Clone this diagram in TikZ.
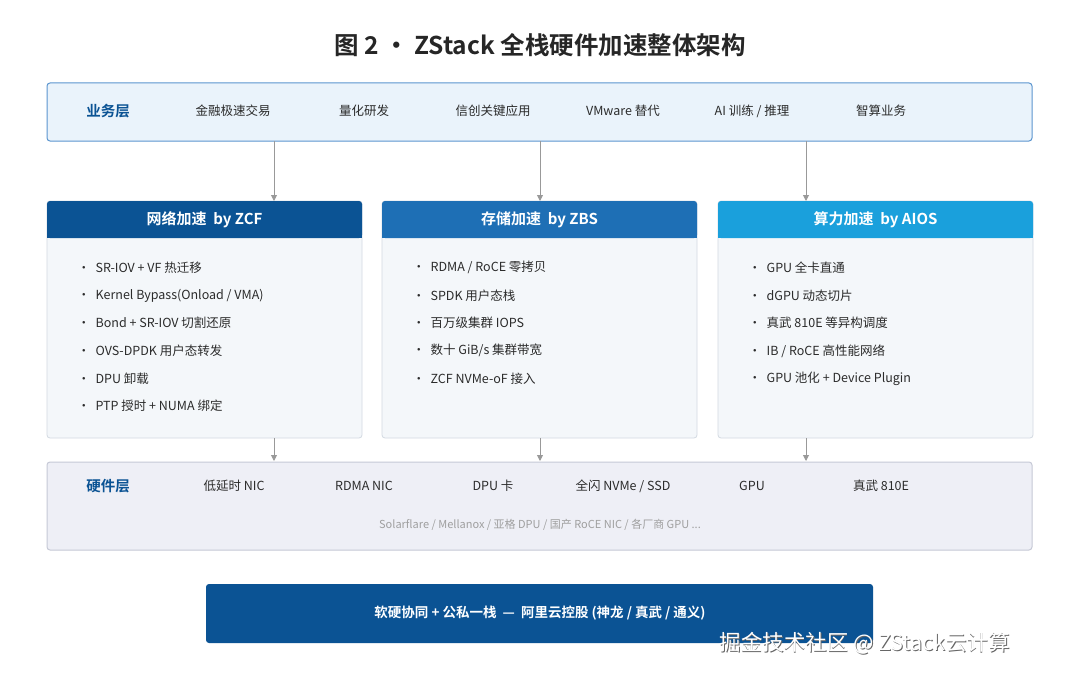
\documentclass[tikz,border=0pt]{standalone}
\usepackage{fontspec}
\setmainfont{Noto Sans CJK SC}
\newfontfamily\cjkb{Noto Sans CJK SC Bold}
\usetikzlibrary{arrows.meta}
\definecolor{dk}{HTML}{0B5394}
\definecolor{md}{HTML}{1E6FB5}
\definecolor{lt}{HTML}{1AA0DC}
\definecolor{bizfill}{HTML}{EAF3FB}
\definecolor{bizline}{HTML}{5B95CF}
\definecolor{bodyfill}{HTML}{F4F7FA}
\definecolor{bodyline}{HTML}{D3DAE2}
\definecolor{hwfill}{HTML}{EEEFF6}
\definecolor{hwline}{HTML}{C6C9D6}
\definecolor{txt}{HTML}{2B2B2B}
\tikzset{
 item/.style={font=\fontsize{12.5}{14}\selectfont, text=txt},
 layerlbl/.style={font=\cjkb\fontsize{14.5}{16}\selectfont, text=dk},
 arr/.style={-{Triangle[length=6pt,width=6pt]}, draw=gray!80, line width=0.9pt},
 hdr/.style={font=\cjkb\fontsize{15}{17}\selectfont, text=white},
 bul/.style={item, anchor=west},
}
\begin{document}
\begin{tikzpicture}[x=1pt,y=-1pt]
\useasboundingbox (0,0) rectangle (1080,677);
\fill[white] (0,0) rectangle (1080,677);
\node[font=\cjkb\fontsize{24.5}{27}\selectfont, text=black!85] (title) at (540,45) {图 2 · ZStack 全栈硬件加速整体架构};
% business
\draw[fill=bizfill, draw=bizline, line width=1pt, rounded corners=3pt] (47,83) rectangle (1032,141);
\node[layerlbl] (biz) at (108,111) {业务层};
\foreach \x/\t [count=\i] in {233/金融极速交易,364/量化研发,493/信创关键应用,623/VMware 替代,752/{AI 训练 / 推理},881/智算业务}
  \node[item] (b\i) at (\x,111) {\t};
\coordinate (bt1) at (274,141); \coordinate (bt2) at (540,141); \coordinate (bt3) at (806,141);
% columns
\foreach \x/\c/\h/\k in {47/dk/网络加速\ \ by ZCF/1, 382/md/存储加速\ \ by ZBS/2, 718/lt/算力加速\ \ by AIOS/3}{
  \draw[fill=bodyfill, draw=bodyline, line width=0.8pt, rounded corners=3pt] (\x,201) rectangle (\x+315,438);
  \fill[\c, rounded corners=3pt] (\x,201) rectangle (\x+315,238);
  \fill[\c] (\x,228) rectangle (\x+315,238);
  \node[hdr] (h\k) at (\x+157.5,220) {\h};
}
\coordinate (t1) at (274,201); \coordinate (t2) at (540,201); \coordinate (t3) at (806,201);
\coordinate (u1) at (274,438); \coordinate (u2) at (540,438); \coordinate (u3) at (806,438);
\foreach \k in {1,2,3} \draw[arr] (bt\k) -- (t\k);
\foreach \t [count=\i] in {SR-IOV + VF 热迁移, Kernel Bypass(Onload / VMA), Bond + SR-IOV 切割还原, OVS-DPDK 用户态转发, DPU 卸载, PTP 授时 + NUMA 绑定}
  \node[bul] (n\i) at (74,240+\i*27.7) {·\ \ \t};
\foreach \t [count=\i] in {RDMA / RoCE 零拷贝, SPDK 用户态栈, 百万级集群 IOPS, 数十 GiB/s 集群带宽, ZCF NVMe-oF 接入}
  \node[bul] (s\i) at (409,240+\i*27.7) {·\ \ \t};
\foreach \t [count=\i] in {GPU 全卡直通, dGPU 动态切片, 真武 810E 等异构调度, IB / RoCE 高性能网络, GPU 池化 + Device Plugin}
  \node[bul] (g\i) at (745,240+\i*27.7) {·\ \ \t};
% hardware
\draw[fill=hwfill, draw=hwline, line width=1pt, rounded corners=3pt] (47,462) rectangle (1032,550);
\coordinate (d1) at (274,461); \coordinate (d2) at (540,461); \coordinate (d3) at (806,461);
\foreach \k in {1,2,3} \draw[arr] (u\k) -- (d\k);
\node[layerlbl] (hw) at (108,486) {硬件层};
\foreach \x/\t [count=\i] in {234/低延时 NIC,364/RDMA NIC,493/DPU 卡,623/{全闪 NVMe / SSD},752/GPU,881/真武 810E}
  \node[item] (w\i) at (\x,486) {\t};
\node[font=\fontsize{11}{13}\selectfont, text=gray!75] (vend) at (540,525) {Solarflare / Mellanox / 亚格 DPU / 国产 RoCE NIC / 各厂商 GPU ...};
% bottom
\fill[dk, rounded corners=3pt] (206,584) rectangle (873,643);
\node[font=\cjkb\fontsize{13.5}{15}\selectfont, text=white] (foot) at (540,613) {软硬协同 + 公私一栈\ \ —\ \ 阿里云控股 (神龙 / 真武 / 通义)};
\node[font=\fontsize{21.5}{24}\selectfont, text=black!60, anchor=west] (wm0) at (716.8,643.8) {掘金技术社区 @ ZStack云计算};
\node[font=\fontsize{21.5}{24}\selectfont, text=white, anchor=west] (wm) at (716,643) {掘金技术社区 @ ZStack云计算};
\end{tikzpicture}
\end{document}
